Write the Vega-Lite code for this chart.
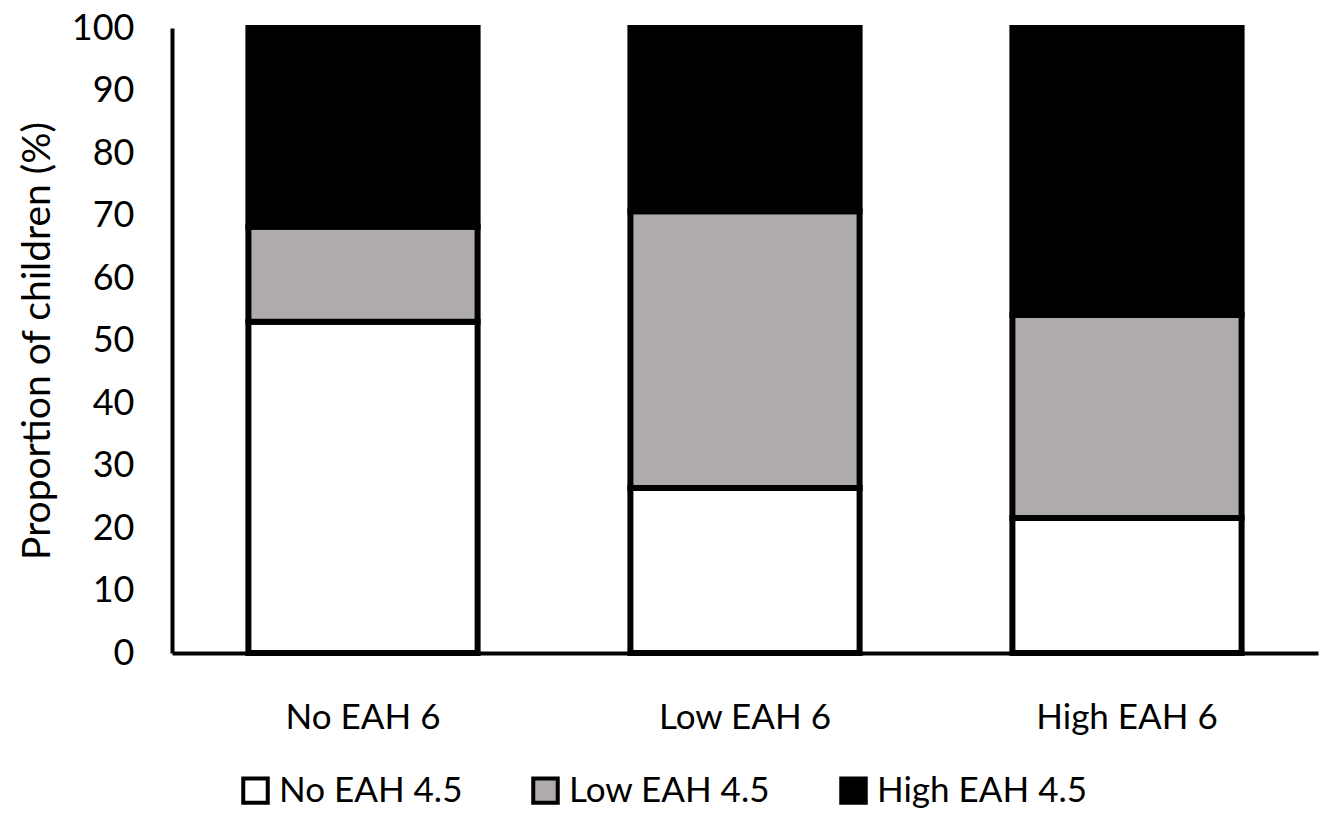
{
  "$schema": "https://vega.github.io/schema/vega-lite/v6.json",
  "autosize": {"type": "none"},
  "width": 1146,
  "height": 625,
  "padding": {"left": 172, "top": 28, "right": 10, "bottom": 161},
  "background": "white",
  "config": {
    "view": {"stroke": null},
    "font": "Lato"
  },
  "data": {
    "values": [
      {"group": "No EAH 6", "level": "No EAH 4.5", "rank": 1, "value": 53.0},
      {"group": "No EAH 6", "level": "Low EAH 4.5", "rank": 2, "value": 15.2},
      {"group": "No EAH 6", "level": "High EAH 4.5", "rank": 3, "value": 31.8},
      {"group": "Low EAH 6", "level": "No EAH 4.5", "rank": 1, "value": 26.4},
      {"group": "Low EAH 6", "level": "Low EAH 4.5", "rank": 2, "value": 44.3},
      {"group": "Low EAH 6", "level": "High EAH 4.5", "rank": 3, "value": 29.3},
      {"group": "High EAH 6", "level": "No EAH 4.5", "rank": 1, "value": 21.6},
      {"group": "High EAH 6", "level": "Low EAH 4.5", "rank": 2, "value": 32.5},
      {"group": "High EAH 6", "level": "High EAH 4.5", "rank": 3, "value": 45.9}
    ]
  },
  "mark": {"type": "bar", "stroke": "black", "strokeWidth": 6, "strokeJoin": "miter"},
  "encoding": {
    "x": {
      "field": "group",
      "type": "nominal",
      "sort": ["No EAH 6", "Low EAH 6", "High EAH 6"],
      "scale": {"paddingInner": 0.4, "paddingOuter": 0.2},
      "axis": {
        "title": null,
        "labelAngle": 0,
        "labelFontSize": 35,
        "labelColor": "black",
        "labelLimit": 500,
        "labelPadding": 47,
        "ticks": false,
        "domainColor": "black",
        "domainWidth": 4
      }
    },
    "y": {
      "field": "value",
      "type": "quantitative",
      "stack": "zero",
      "scale": {"domain": [0, 100], "nice": false},
      "axis": {
        "title": "Proportion of children (%)",
        "titleFontSize": 39,
        "titleFontWeight": "normal",
        "titleColor": "black",
        "titlePadding": 14,
        "values": [0, 10, 20, 30, 40, 50, 60, 70, 80, 90, 100],
        "labelFontSize": 36,
        "labelColor": "black",
        "labelPadding": 38,
        "ticks": false,
        "grid": false,
        "domainColor": "black",
        "domainWidth": 4
      }
    },
    "order": {"field": "rank", "type": "quantitative"},
    "fill": {
      "field": "level",
      "type": "nominal",
      "sort": ["No EAH 4.5", "Low EAH 4.5", "High EAH 4.5"],
      "scale": {"domain": ["No EAH 4.5", "Low EAH 4.5", "High EAH 4.5"], "range": ["#ffffff", "#aeabaa", "#000000"]},
      "legend": {
        "title": null,
        "orient": "none",
        "direction": "horizontal",
        "legendX": 66,
        "legendY": 745,
        "labelFontSize": 35,
        "labelColor": "black",
        "labelLimit": 500,
        "symbolType": "square",
        "symbolSize": 600,
        "symbolStrokeColor": "black",
        "symbolStrokeWidth": 4,
        "symbolOpacity": 1,
        "labelOffset": 6,
        "columnPadding": 62
      }
    }
  }
}
